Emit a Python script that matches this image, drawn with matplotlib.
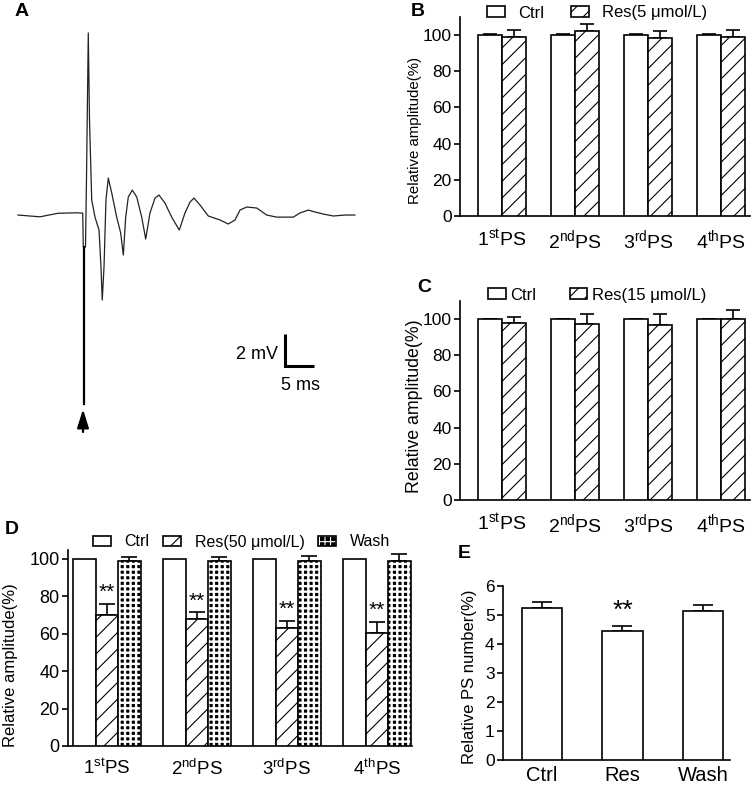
import matplotlib
matplotlib.use('Agg')
import matplotlib.pyplot as plt
import numpy as np

plt.rcParams['font.family'] = ['Liberation Sans', 'DejaVu Sans']
plt.rcParams['mathtext.fontset'] = 'custom'
plt.rcParams['mathtext.rm'] = 'Liberation Sans'
plt.rcParams['mathtext.it'] = 'Liberation Sans:italic'
plt.rcParams['mathtext.bf'] = 'Liberation Sans:bold'
plt.rcParams['hatch.linewidth'] = 0.8

# ---------------- data ----------------
# Panel A: field potential trace (ms, mV)
trace_t = [0.0, 3.79, 6.90, 10.0, 11.16, 11.26, 11.64, 11.81, 12.12, 12.33, 12.71,
           13.28, 13.97, 14.31, 14.53, 14.83, 15.17, 15.57, 16.16, 17.02, 17.71,
           18.16, 18.57, 19.02, 19.71, 20.47, 21.33, 22.02, 22.76, 23.62, 24.31,
           25.34, 26.5, 27.81, 28.79, 29.66, 30.34, 31.38, 32.81, 34.83, 36.26,
           37.41, 38.28, 39.43, 41.16, 42.88, 44.6, 47.47, 48.62, 50.05, 51.21,
           52.64, 54.36, 56.38, 58.1]
trace_v = [0.0, -0.11, 0.11, 0.14, 0.12, -2.0, -2.0, 2.19, 11.38, 5.94, 0.94,
           -0.13, -0.94, -3.25, -5.31, -3.25, 0.94, 2.31, 1.38, -0.13, -1.13,
           -2.5, -0.13, 1.13, 1.56, 1.13, -0.13, -1.5, 0.13, 1.06, 1.25,
           0.75, -0.13, -0.94, 0.13, 0.81, 1.06, 0.63, -0.06, -0.31, -0.56,
           -0.31, 0.31, 0.5, 0.44, 0.0, -0.13, -0.13, 0.13, 0.31, 0.19,
           0.06, -0.06, 0.0, 0.0]
artifact_t = [11.38, 11.38]
artifact_v = [-2.0, -11.81]
stim_t = 11.21
stim_v = [-13.56, -12.13]
bar_ms = 5
bar_mv = 2

ps_labels = ['1$^{\\mathrm{st}}$PS', '2$^{\\mathrm{nd}}$PS',
             '3$^{\\mathrm{rd}}$PS', '4$^{\\mathrm{th}}$PS']

# Panel B (Res 5 umol/L)
b_ctrl = [100, 100, 100, 100]
b_ctrl_err = [0.4, 0.4, 0.4, 0.4]
b_res = [99.0, 102.2, 98.5, 99.0]
b_res_err = [3.8, 3.8, 3.5, 3.8]

# Panel C (Res 15 umol/L)
c_ctrl = [100, 100, 100, 100]
c_ctrl_err = [0.3, 0.3, 0.3, 0.3]
c_res = [98.0, 97.2, 96.7, 100.0]
c_res_err = [3.3, 5.4, 5.9, 5.0]

# Panel D (Res 50 umol/L + wash)
d_ctrl = [100, 100, 100, 100]
d_res = [70.0, 67.7, 63.0, 60.6]
d_res_err = [6.0, 3.8, 4.0, 5.9]
d_wash = [99.0, 99.0, 99.0, 99.0]
d_wash_err = [1.8, 1.8, 2.8, 3.5]
d_sig = ['**', '**', '**', '**']

# Panel E (relative PS number)
e_labels = ['Ctrl', 'Res', 'Wash']
e_vals = [5.24, 4.44, 5.13]
e_err = [0.19, 0.18, 0.21]
e_sig = ['', '**', '']

W, H = 751, 787
fig = plt.figure(figsize=(W / 100, H / 100), dpi=100)


def px_axes(left, top, right, bottom):
    return fig.add_axes([left / W, 1 - bottom / H, (right - left) / W, (bottom - top) / H])


def style_axes(ax, ytick_fs, xtick_fs):
    for s in ['top', 'right']:
        ax.spines[s].set_visible(False)
    for s in ['left', 'bottom']:
        ax.spines[s].set_linewidth(1.2)
    ax.tick_params(axis='y', length=4, width=1.2, labelsize=ytick_fs, pad=2)
    ax.tick_params(axis='x', length=0, labelsize=xtick_fs, pad=9)


EK = dict(edgecolor='black', linewidth=1.2)
ERRK = dict(ecolor='black', elinewidth=1.2, capthick=1.2)
HATCH = '//'

# ---------------- Panel A ----------------
axA = px_axes(0, 0, 370, 440)
axA.set_axis_off()
axA.set_xlim(-3.10, 60.69)
axA.set_ylim(-14.06, 13.44)
axA.plot(trace_t, trace_v, color='#222222', lw=0.9)
axA.plot(artifact_t, artifact_v, color='black', lw=1.6)
axA.annotate('', xy=(stim_t, stim_v[1]), xytext=(stim_t, stim_v[0]),
             arrowprops=dict(arrowstyle='-|>,head_length=0.8,head_width=0.25',
                             color='black', lw=1.6, mutation_scale=14,
                             shrinkA=0, shrinkB=0))
sx, sy = 46.03, -9.44
axA.plot([sx, sx, sx + bar_ms], [sy + bar_mv, sy, sy], color='black', lw=2.2,
         solid_joinstyle='miter', solid_capstyle='butt')
axA.text(sx - 1.2, sy + 0.7, f'{bar_mv} mV', ha='right', va='center', fontsize=13)
axA.text(sx + 2.6, sy - 1.2, f'{bar_ms} ms', ha='center', va='center', fontsize=13)


# ---------------- Panels B, C ----------------
def two_group(ax, ctrl, ctrl_err, res, res_err, conc, ylab_fs, leg_anchor, leg_kw):
    x = np.arange(len(ctrl))
    w = 0.33
    b1 = ax.bar(x - w / 2, ctrl, w, color='white', **EK, label='Ctrl', zorder=3)
    b2 = ax.bar(x + w / 2, res, w, color='white', hatch=HATCH, **EK,
                label=f'Res({conc} \u03bcmol/L)', zorder=3)
    ax.errorbar(x - w / 2, ctrl, yerr=[np.zeros(len(ctrl)), ctrl_err], fmt='none',
                capsize=5, **ERRK, zorder=2)
    ax.errorbar(x + w / 2, res, yerr=[np.zeros(len(res)), res_err], fmt='none',
                capsize=5, **ERRK, zorder=2)
    ax.set_xlim(-0.575, 3.397)
    ax.set_ylim(0, 110)
    ax.set_yticks([0, 20, 40, 60, 80, 100])
    ax.set_xticks(x)
    ax.set_xticklabels(ps_labels)
    style_axes(ax, 12.5, 14)
    ax.set_ylabel('Relative amplitude(%)', fontsize=ylab_fs)
    fig.legend(handles=[b1, b2], loc='center left', bbox_to_anchor=leg_anchor,
               frameon=False, ncol=2, fontsize=12, borderpad=0, borderaxespad=0,
               handleheight=0.6, **leg_kw)


axB = px_axes(460, 17, 750, 216)
two_group(axB, b_ctrl, b_ctrl_err, b_res, b_res_err, 5, 10.8,
          (487 / W, 1 - 13 / H), dict(handlelength=1.08, handletextpad=0.78, columnspacing=1.6))
axB.yaxis.set_label_coords(-0.131, 0.432)

axC = px_axes(460, 301, 750, 500)
two_group(axC, c_ctrl, c_ctrl_err, c_res, c_res_err, 15, 12.8,
          (488 / W, 1 - 295 / H), dict(handlelength=1.05, handletextpad=0.3, columnspacing=2.0))
axC.yaxis.set_label_coords(-0.128, 0.472)

# ---------------- Panel D ----------------
axD = px_axes(68, 549.6, 412, 746)
xd = np.arange(len(d_ctrl))
wd = 0.25
d1 = axD.bar(xd - wd, d_ctrl, wd, color='white', **EK, zorder=3)
d2 = axD.bar(xd, d_res, wd, color='white', hatch=HATCH, **EK, zorder=3)
d3a = axD.bar(xd + wd, d_wash, wd, color='black', edgecolor='white', linewidth=0,
              hatch='+++', zorder=3)
for p in d3a:
    if hasattr(p, 'set_hatch_linewidth'):
        p.set_hatch_linewidth(1.7)
d3b = axD.bar(xd + wd, d_wash, wd, color='none', **EK, zorder=4)
axD.errorbar(xd, d_res, yerr=[np.zeros(4), d_res_err], fmt='none', capsize=6, **ERRK, zorder=2)
axD.errorbar(xd + wd, d_wash, yerr=[np.zeros(4), d_wash_err], fmt='none', capsize=6, **ERRK, zorder=2)
for xi, v, e, s in zip(xd, d_res, d_res_err, d_sig):
    axD.text(xi, v + e + 1.0, s, ha='center', va='bottom', fontsize=15)
axD.set_xlim(-0.433, 3.389)
axD.set_ylim(0, 105)
axD.set_yticks([0, 20, 40, 60, 80, 100])
axD.set_xticks(xd)
axD.set_xticklabels(ps_labels)
style_axes(axD, 13, 13.5)
axD.set_ylabel('Relative amplitude(%)', fontsize=12)
axD.yaxis.set_label_coords(-0.145, 0.412)
fig.legend(handles=[d1, d2, (d3a[0], d3b[0])],
           labels=['Ctrl', 'Res(50 \u03bcmol/L)', 'Wash'],
           loc='center left', bbox_to_anchor=(93 / W, 1 - 542 / H), frameon=False,
           ncol=3, fontsize=11.5, borderpad=0, borderaxespad=0, handleheight=0.6,
           handlelength=1.12, handletextpad=0.85, columnspacing=0.85)

# ---------------- Panel E ----------------
axE = px_axes(503, 585.7, 730, 760)
xe = np.arange(len(e_vals))
axE.bar(xe, e_vals, 0.5, color='white', **EK, zorder=3)
axE.errorbar(xe, e_vals, yerr=[np.zeros(3), e_err], fmt='none', capsize=7, **ERRK, zorder=2)
for xi, v, e, s in zip(xe, e_vals, e_err, e_sig):
    if s:
        axE.text(xi, v + e + 0.1, s, ha='center', va='bottom', fontsize=19)
axE.set_xlim(-0.484, 2.335)
axE.set_ylim(0, 6)
axE.set_yticks(range(7))
axE.set_xticks(xe)
axE.set_xticklabels(e_labels)
style_axes(axE, 12.5, 14.5)
axE.tick_params(axis='x', pad=4)
axE.set_ylabel('Relative PS number(%)', fontsize=12)
axE.yaxis.set_label_coords(-0.115, 0.476)

# ---------------- panel letters ----------------
for lab, (lx, ly) in zip('ABCDE', [(22, 12), (418, 11), (424, 287), (12, 529), (464, 553)]):
    fig.text(lx / W, 1 - ly / H, lab, fontsize=14, fontweight='bold', ha='center', va='center')

fig.savefig('out.png', dpi=100)
